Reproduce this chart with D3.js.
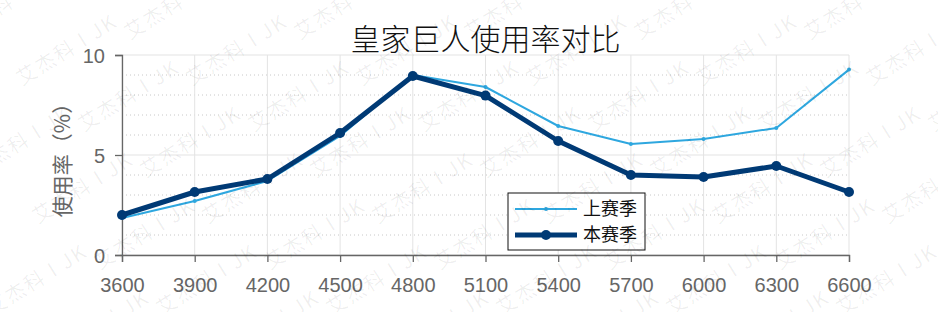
<!DOCTYPE html>
<html>
<head>
<meta charset="utf-8">
<script src="https://cdn.jsdelivr.net/npm/d3@7"></script>
<style>
  body { margin: 0; background: #fff; }
  svg { display: block; }
</style>
</head>
<body>
<div id="chart"></div>
<script>
// chart data
const levels = [3600, 3900, 4200, 4500, 4800, 5100, 5400, 5700, 6000, 6300, 6600];
const lastSeason = [1.85, 2.7, 3.7, 5.95, 9.0, 8.4, 6.45, 5.55, 5.8, 6.35, 9.27];
const thisSeason = [2.0, 3.15, 3.8, 6.1, 8.95, 7.97, 5.7, 4.0, 3.9, 4.45, 3.15];
const seriesNames = ["上赛季", "本赛季"];
const yTicks = [0, 5, 10];

const width = 938, height = 312;
const margin = {top: 55, right: 89, bottom: 57, left: 122};

const svg = d3.select("#chart").append("svg")
    .attr("width", width)
    .attr("height", height);

let x = d3.scaleLinear()
    .domain([3600, 6600])
    .range([margin.left, width - margin.right]);

let y = d3.scaleLinear()
    .domain([0, 10])
    .range([height - margin.bottom, margin.top]);

// minor grid (dotted)
svg.append("g")
    .selectAll("line")
    .data(d3.range(1, 10).filter(v => v !== 5))
    .enter().append("line")
    .attr("x1", x(3600)).attr("x2", x(6600))
    .attr("y1", d => y(d)).attr("y2", d => y(d))
    .style("stroke", "#c8c8c8")
    .style("stroke-width", 1)
    .style("stroke-dasharray", "1,3");

// major grid
svg.append("g")
    .selectAll("line")
    .data(levels)
    .enter().append("line")
    .attr("x1", d => x(d)).attr("x2", d => x(d))
    .attr("y1", y(0)).attr("y2", y(10))
    .style("stroke", "#e3e3e3");
svg.append("g")
    .selectAll("line")
    .data(yTicks)
    .enter().append("line")
    .attr("x1", x(3600)).attr("x2", x(6600))
    .attr("y1", d => y(d)).attr("y2", d => y(d))
    .style("stroke", "#e3e3e3");

// axes
let xAxis = svg.append("g")
    .attr("transform", `translate(0,${y(0)})`)
    .call(d3.axisBottom(x).tickValues(levels).tickFormat(d3.format("d")).tickSize(7).tickPadding(16));
let yAxis = svg.append("g")
    .attr("transform", `translate(${x(3600)},0)`)
    .call(d3.axisLeft(y).tickValues(yTicks).tickSize(7).tickPadding(10));

[xAxis, yAxis].forEach(a => {
    a.select(".domain").style("stroke", "#666").style("stroke-width", 1.3);
    a.selectAll(".tick line").style("stroke", "#666").style("stroke-width", 1.3);
    a.selectAll("text")
        .attr("font-family", "Liberation Sans, Arial, sans-serif")
        .attr("font-size", 20)
        .attr("fill", "#666");
});
yAxis.selectAll("text").attr("dy", "0.35em");

svg.append("text")
    .attr("transform", `translate(70,${(y(0) + y(10)) / 2}) rotate(-90)`)
    .attr("text-anchor", "middle")
    .attr("font-family", "Noto Sans CJK SC")
    .attr("font-size", 21)
    .attr("fill", "#666")
    .text("使用率（%）");

// title
svg.append("text")
    .attr("x", (x(3600) + x(6600)) / 2)
    .attr("y", 50)
    .attr("text-anchor", "middle")
    .attr("font-family", "Noto Sans CJK SC")
    .attr("font-size", 30)
    .attr("font-weight", 300)
    .attr("fill", "#111")
    .text("皇家巨人使用率对比");

const line = d3.line()
    .x((d, i) => x(levels[i]))
    .y(d => y(d));

const styles = [
    {data: lastSeason, color: "#2ea7df", width: 2, r: 2},
    {data: thisSeason, color: "#003a75", width: 5, r: 5}
];

styles.forEach(s => {
    svg.append("path")
        .datum(s.data)
        .attr("d", line)
        .style("fill", "none")
        .style("stroke", s.color)
        .style("stroke-width", s.width)
        .style("stroke-linejoin", "round");
    svg.append("g")
        .selectAll("circle")
        .data(s.data)
        .enter().append("circle")
        .attr("cx", (d, i) => x(levels[i]))
        .attr("cy", d => y(d))
        .attr("r", s.r)
        .style("fill", s.color);
});

// legend
let legend = svg.append("g").attr("transform", "translate(508,193)");
legend.append("rect")
    .attr("width", 137).attr("height", 57)
    .style("fill", "#fff")
    .style("stroke", "#111")
    .style("stroke-width", 1);
styles.forEach((s, i) => {
    let ly = 16 + i * 26;
    legend.append("line")
        .attr("x1", 7).attr("x2", 69)
        .attr("y1", ly).attr("y2", ly)
        .style("stroke", s.color)
        .style("stroke-width", s.width);
    legend.append("circle")
        .attr("cx", 38).attr("cy", ly).attr("r", s.r)
        .style("fill", s.color);
    legend.append("text")
        .attr("x", 75).attr("y", ly)
        .attr("dy", "0.35em")
        .attr("font-family", "Noto Sans CJK SC")
        .attr("font-size", 18)
        .attr("fill", "#111")
        .text(seriesNames[i]);
});

// watermark on top, very faint
const wm = svg.append("g").attr("class", "watermark").style("pointer-events", "none");
for (let row = 0; row < 9; row++) {
    for (let col = 0; col < 7; col++) {
        let gx = -40 + col * 170 + (row * 62) % 170;
        let gy = 40 + row * 46;
        wm.append("text")
            .attr("transform", `translate(${gx},${gy}) rotate(-32)`)
            .attr("font-family", "Noto Sans CJK SC")
            .attr("font-size", 20)
            .attr("letter-spacing", 2)
            .attr("fill", "#000")
            .attr("fill-opacity", 0.065)
            .text("艾杰科 I JK");
    }
}
</script>
</body>
</html>
